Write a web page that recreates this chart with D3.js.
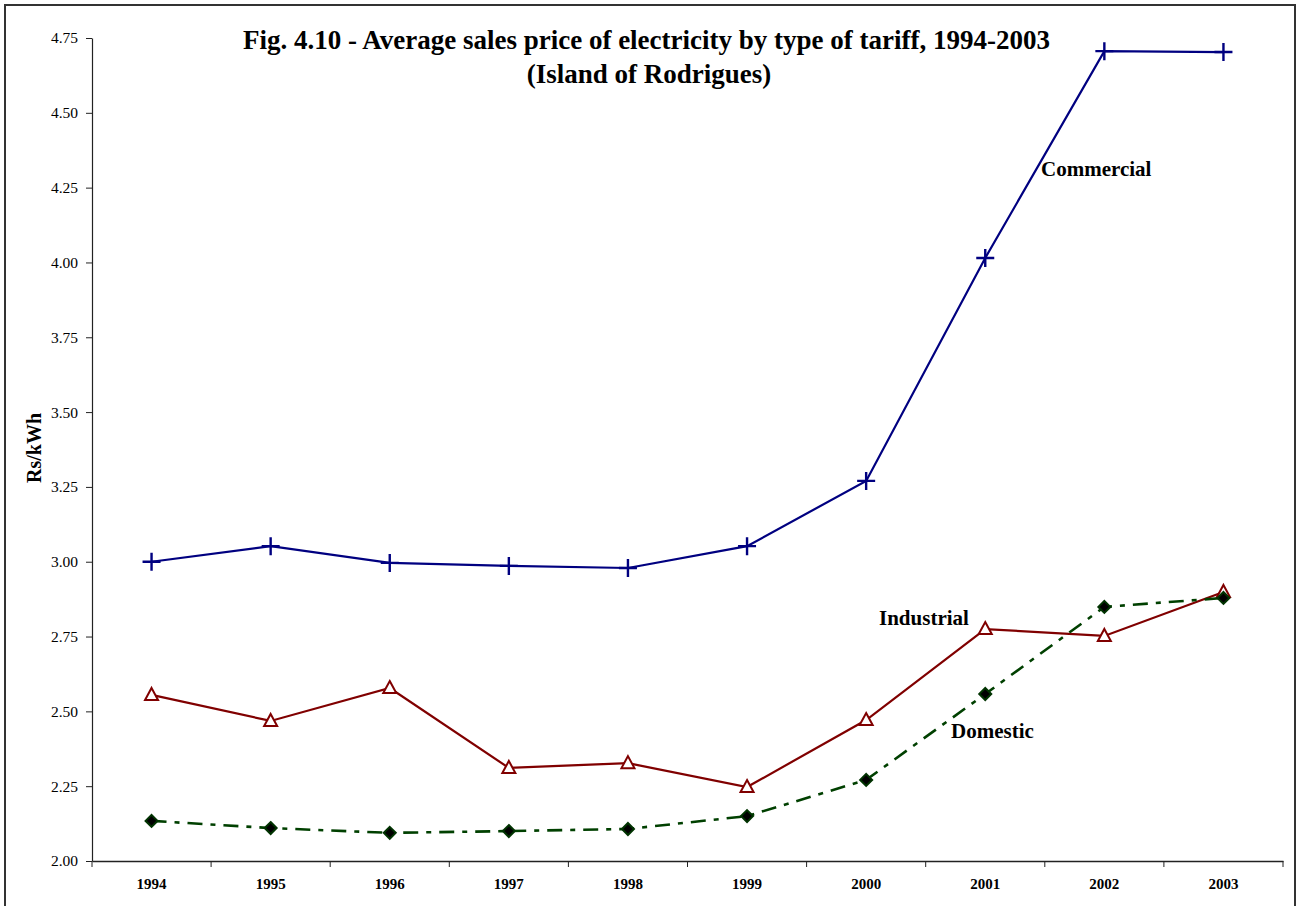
<!DOCTYPE html>
<html><head><meta charset="utf-8">
<script src="https://cdn.jsdelivr.net/npm/d3@7"></script>
<style>body{margin:0;background:#fff}svg{display:block}</style>
</head><body>
<svg id="c" width="1297" height="906"></svg>
<script>
const years = ["1994","1995","1996","1997","1998","1999","2000","2001","2002","2003"];
const commercial = [3.00,3.052,2.996,2.986,2.979,3.052,3.27,4.015,4.706,4.703];
const industrial = [2.555,2.468,2.578,2.311,2.327,2.247,2.471,2.775,2.752,2.899];
const domestic = [2.134,2.110,2.094,2.100,2.107,2.150,2.271,2.558,2.849,2.879];
const yTicks = [2.00,2.25,2.50,2.75,3.00,3.25,3.50,3.75,4.00,4.25,4.50,4.75];
const titleLines = ["Fig. 4.10 - Average sales price of electricity by type of tariff, 1994-2003","(Island of Rodrigues)"];

const svg = d3.select("#c");
const font = "'Liberation Serif','Times New Roman',serif";
const L=92,R=1283,T=38,B=861;

svg.append("rect").attr("x",5).attr("y",5).attr("width",1290).attr("height",910)
  .attr("fill","#fff").attr("stroke","#333").attr("stroke-width",2);

const x = d3.scaleBand().domain(years).range([L,R]);
const y = d3.scaleLinear().domain([2,4.75]).range([B,T]);
const cx = d => x(d)+x.bandwidth()/2;

// Y axis
const ya = svg.append("g").attr("transform",`translate(${L},0)`)
  .call(d3.axisLeft(y).tickValues(yTicks).tickFormat(d3.format(".2f")).tickSize(6).tickSizeOuter(0));
ya.select(".domain").attr("stroke","#222").attr("stroke-width",1.2);
ya.selectAll(".tick line").attr("stroke","#222");
ya.selectAll("text").attr("font-family",font).attr("font-size",15.5).attr("fill","#000").attr("x",-14);

// X axis
const xa = svg.append("g").attr("transform",`translate(0,${B})`)
  .call(d3.axisBottom(x).tickSize(0).tickSizeOuter(0));
xa.select(".domain").attr("stroke","#222").attr("stroke-width",1.5);
xa.selectAll("text").attr("font-family",font).attr("font-size",15).attr("font-weight","bold").attr("fill","#000")
  .attr("y",28).attr("dy",0);
// boundary ticks
const bounds = years.map(d=>x(d)).concat([R]);
svg.append("g").selectAll("line").data(bounds).join("line")
  .attr("x1",d=>d).attr("x2",d=>d).attr("y1",B).attr("y2",B+6).attr("stroke","#222");

// Title
svg.append("text").attr("x",646.5).attr("y",48.5).attr("text-anchor","middle")
  .attr("font-family",font).attr("font-weight","bold").attr("font-size",27).text(titleLines[0]);
svg.append("text").attr("x",649).attr("y",83).attr("text-anchor","middle")
  .attr("font-family",font).attr("font-weight","bold").attr("font-size",27).text(titleLines[1]);

// Y label
svg.append("text").attr("transform","translate(41,448) rotate(-90)").attr("text-anchor","middle")
  .attr("font-family",font).attr("font-weight","bold").attr("font-size",20).text("Rs/kWh");

const line = d3.line().x((d,i)=>cx(years[i])).y(d=>y(d));

// Commercial
svg.append("path").datum(commercial).attr("d",line).attr("fill","none").attr("stroke","#000080").attr("stroke-width",2.2);
svg.append("g").selectAll("path").data(commercial).join("path")
  .attr("d",(d,i)=>{const X=cx(years[i]),Y=y(d);return `M${X-9},${Y}H${X+9}M${X},${Y-9}V${Y+9}`;})
  .attr("stroke","#000080").attr("stroke-width",2.4).attr("fill","none");

// Industrial
svg.append("path").datum(industrial).attr("d",line).attr("fill","none").attr("stroke","#800000").attr("stroke-width",2.2);
svg.append("g").selectAll("path").data(industrial).join("path")
  .attr("d",(d,i)=>{const X=cx(years[i]),Y=y(d);return `M${X},${Y-7}L${X+6.5},${Y+5}L${X-6.5},${Y+5}Z`;})
  .attr("stroke","#800000").attr("stroke-width",2).attr("fill","#fff");

// Domestic
svg.append("path").datum(domestic).attr("d",line).attr("fill","none").attr("stroke","#004000").attr("stroke-width",2.6)
  .attr("stroke-dasharray","15,8,5,8");
svg.append("g").selectAll("path").data(domestic).join("path")
  .attr("d",(d,i)=>{const X=cx(years[i]),Y=y(d);return `M${X},${Y-6}L${X+6},${Y}L${X},${Y+6}L${X-6},${Y}Z`;})
  .attr("stroke","#003300").attr("stroke-width",2).attr("fill","#000");

// Series labels
const lab = (t,xx,yy)=>svg.append("text").attr("x",xx).attr("y",yy).attr("font-family",font)
  .attr("font-weight","bold").attr("font-size",21).text(t);
lab("Commercial",1041,176);
lab("Industrial",879,625);
lab("Domestic",951,738);
</script>
</body></html>
